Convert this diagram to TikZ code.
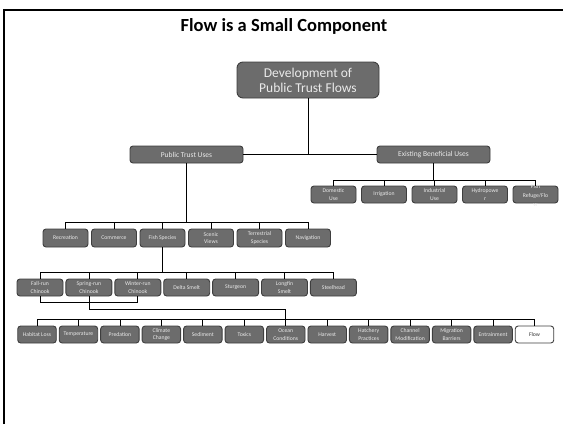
\documentclass[tikz,border=0pt]{standalone}
\usepackage{fontspec}
\setmainfont{Carlito}
\usetikzlibrary{positioning,calc}
\definecolor{boxgray}{RGB}{108,108,108}
\definecolor{boxedge}{RGB}{62,62,62}
\definecolor{boxtext}{RGB}{234,234,234}

\begin{document}
\begin{tikzpicture}[
x=1pt, y=-1pt,
box/.style={
  draw=boxedge,
  fill=boxgray,
  text=boxtext,
  rounded corners=3pt,
  line width=0.9pt,
  inner sep=0pt,
  align=center,
  font=\fontsize{5.7}{7.6}\selectfont
  },
rootbox/.style={box, rounded corners=6pt, minimum width=142pt, minimum height=36pt,
  font=\fontsize{13.5}{15}\selectfont},
usebox/.style={box, minimum width=113pt, minimum height=17pt,
  font=\fontsize{7.5}{9}\selectfont},
item/.style={box, minimum width=45pt, minimum height=18pt},
fishbox/.style={box, minimum width=46pt, minimum height=17pt},
riskbox/.style={box, minimum width=38.5pt, minimum height=17pt},
wire/.style={draw=black, line width=0.8pt}
]
\useasboundingbox (0,0) rectangle (563,424);
\draw[line width=2pt] (4,424) -- (4,10) -- (563,10);

\node[font=\fontsize{18.5}{21}\selectfont\bfseries] (title) at (284,26) {Flow is a Small Component};

\node[rootbox] (root) at (308,80) {Development of\\Public Trust Flows};
\node[usebox] (ptu) at (186.5,154.5) {Public Trust Uses};
\node[usebox] (ebu) at (433.5,154.5) {Existing Beneficial Uses};
\draw[wire] (ptu.east) -- (ebu.west);
\draw[wire] (root.south) -- (root.south |- ptu.east);

% existing beneficial uses
\coordinate (bus1) at (0,180);
\foreach \nm/\txt [count=\i from 0] in {dom/Domestic\\Use, irr/Irrigation, ind/Industrial\\Use, hyd/Hydropowe\\r}
  \node[item, minimum height=17pt] (\nm) at (333.5+50.5*\i,194.5) {\txt};
\node[item, minimum height=17pt, font=\fontsize{5.7}{8.8}\selectfont] (ref) at (535.5,194.5)
  {\raisebox{-5pt}{\smash{\begin{tabular}{@{}c@{}}Fish\\Refuge/Flo\\w\end{tabular}}}};
\foreach \nm in {dom,irr,ind,hyd,ref}
  \draw[wire] (ebu.south) |- (bus1 -| \nm.north) -- (\nm.north);

% public trust uses
\coordinate (bus2) at (0,222);
\foreach \nm/\txt [count=\i from 0] in {rec/Recreation, com/Commerce, fish/Fish Species, scen/Scenic\\Views, terr/Terrestrial\\Species, nav/Navigation}
  \node[item] (\nm) at (65.5+48.5*\i,238) {\txt};
\foreach \nm in {rec,com,fish,scen,terr,nav}
  \draw[wire] (ptu.south) |- (bus2 -| \nm.north) -- (\nm.north);

% fish species
\coordinate (bus3) at (0,272);
\foreach \nm/\txt [count=\i from 0] in {fall/Fall-run\\Chinook, spring/Spring-run\\Chinook, winter/Winter-run\\Chinook, delta/Delta Smelt, sturg/Sturgeon, long/Longfin\\Smelt, steel/Steelhead}
  \node[fishbox] (\nm) at (40+48.9*\i,287.5) {\txt};
\foreach \nm in {fall,spring,winter,delta,sturg,long,steel}
  \draw[wire] (fish.south) |- (bus3 -| \nm.north) -- (\nm.north);
\draw[wire] (fall.south) |- ($(winter.south)+(0,6)$) -- (winter.south);

% stressors
\coordinate (bus4) at (0,319.5);
\foreach \nm/\txt [count=\i from 0] in {hab/Habitat Loss, temp/Temperature, pred/Predation, clim/Climate\\Change, sed/Sediment, tox/Toxics, ocean/Ocean\\Conditions, harv/Harvest, hatch/Hatchery\\Practices, chan/Channel\\Modification, migr/Migration\\Barriers, entr/Entrainment}
  \node[riskbox] (\nm) at (37+41.46*\i,334.5) {\txt};
\node[riskbox, fill=white, text=black!80] (flow) at (534.5,334.5) {Flow};
\coordinate (hub) at (ocean.north |- 0,309);
\draw[wire] (spring.south) |- (hub);
\foreach \nm in {hab,temp,pred,clim,sed,tox,ocean,harv,hatch,chan,migr,entr,flow}
  \draw[wire] (hub) |- (bus4 -| \nm.north) -- (\nm.north);
\end{tikzpicture}
\end{document}
